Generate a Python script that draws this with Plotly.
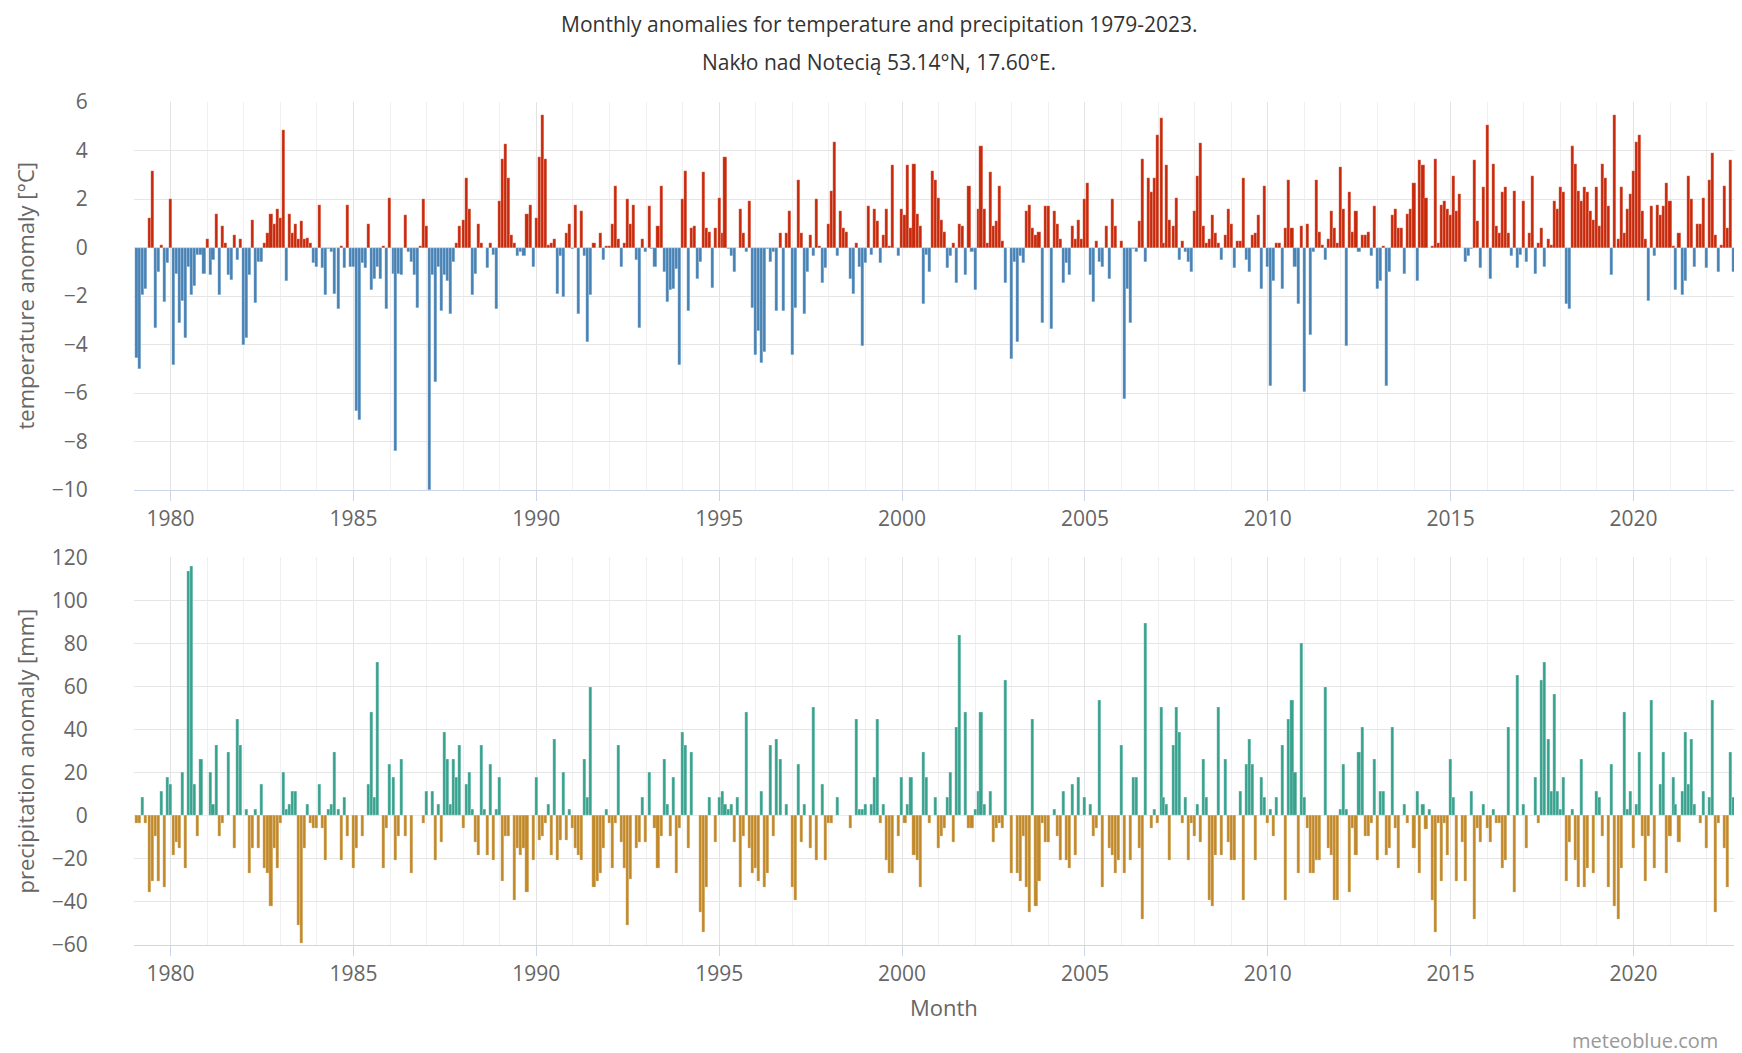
import pandas as pd
import plotly.graph_objects as go

# ---------------- data (monthly anomalies) ----------------
temp_1979_1989 = [
    -4.55, -5.0, -1.95, -1.7, 1.2, 3.15, -3.3, -1.0, 0.1, -2.25, -0.65, 2.0,
    -4.85, -1.1, -3.1, -2.2, -3.75, -0.8, -1.95, -1.6, -0.3, -0.3, -1.1, 0.37,
    -1.15, -0.5, 1.4, -1.95, 0.9, 0.2, -1.15, -1.35, 0.5, -0.5, 0.37, -4.0,
    -3.75, -1.15, 1.15, -2.3, -0.6, -0.6, 0.2, 0.6, 1.4, 0.95, 1.6, 1.2,
    4.85, -1.4, 1.4, 0.6, 0.95, 0.37, 1.1, 0.37, 0.4, 0.2, -0.65, -0.8,
    1.75, -0.85, -1.95, -0.05, -0.2, -1.9, -2.55, 0.07, -0.85, 1.75, -0.8, -0.8,
    -6.75, -7.1, -0.65, -0.85, 0.95, -1.75, -1.3, -0.8, -1.3, 0.07, -2.55, 2.05,
    -1.1, -8.4, -1.1, -1.15, 1.35, -0.2, -0.6, -1.15, -2.5, 0.05, 2.0, 0.9,
    -10.0, -1.15, -5.55, -0.8, -2.6, -1.15, -1.4, -2.75, -0.6, 0.2, 0.9, 1.15,
    2.85, 1.6, -1.95, -1.1, 0.95, 0.2, 0.0, -0.85, 0.2, -0.3, -2.55, 1.9,
    3.65, 4.25, 2.85, 0.5, 0.2, -0.35, -0.2, -0.35, 1.4, 1.75, -0.8, 1.2,
]
temp_1990_1999 = [
    3.75, 5.45, 3.65, 0.1, 0.2, 0.37, -1.9, -0.35, -2.05, 0.6, 0.95, -0.05,
    1.75, -2.75, 1.5, -0.35, -3.9, -1.95, 0.2, 0.0, 0.6, -0.5, 0.07, 0.07,
    0.95, 2.55, 0.37, -0.8, 0.2, 2.0, 0.95, 1.75, -0.5, -3.3, 0.37, -0.2,
    1.7, -0.05, -0.8, 0.9, 2.55, -1.0, -2.25, -1.75, -1.7, -0.9, -4.85, 2.0,
    3.15, -2.6, 0.8, 0.9, -1.3, -0.6, 3.1, 0.8, 0.65, -1.65, 0.8, 2.05,
    0.6, 3.75, -0.05, -0.35, -1.0, 0.0, 1.6, 0.6, -0.2, 1.9, -2.5, -4.45,
    -3.45, -4.75, -4.3, -0.05, -0.6, -0.2, -2.6, 0.6, -2.6, 0.6, 1.5, -4.45,
    -2.5, 2.8, 0.6, -2.75, -1.0, 0.5, -0.35, 2.0, 0.07, -1.45, -0.85, 0.95,
    2.35, 4.35, -0.35, 1.5, 0.8, 0.65, -1.3, -1.9, 0.2, -0.8, -4.05, -0.65,
    1.7, -0.3, 1.6, 1.1, -0.65, 0.5, 1.6, 0.07, 3.4, 0.0, -0.35, 1.6,
]
temp_2000_2009 = [
    1.35, 3.4, 0.8, 3.45, 1.4, 0.9, -2.35, -0.3, -1.0, 3.15, 2.8, 2.05,
    1.15, 0.65, -0.85, -0.35, 0.2, -1.45, 0.95, 0.9, -1.15, 2.55, -0.2, -1.75,
    1.6, 4.2, 1.6, 0.2, 3.1, 0.9, 1.1, 2.55, 0.27, -1.45, 0.0, -4.6,
    -0.6, -3.9, -0.35, -0.65, 1.5, 1.75, 0.8, 0.5, 0.65, -3.1, 1.7, 1.7,
    -3.35, 1.5, 0.95, 0.37, -1.45, -0.65, -1.15, 0.9, 0.37, 1.15, 0.37, 2.0,
    2.65, -1.15, -2.25, 0.27, -0.6, -0.8, 0.9, -1.3, 2.0, 0.9, 0.0, 0.27,
    -6.25, -1.7, -3.1, -0.05, -0.2, 1.1, 3.65, -0.6, 2.85, 2.3, 2.85, 4.65,
    5.35, 0.2, 3.4, 1.15, 0.9, 2.05, -0.5, 0.27, -0.2, -0.6, -1.0, 1.5,
    2.95, 4.3, 0.9, 0.2, 0.35, 1.35, 0.6, 0.2, -0.5, 0.5, 1.6, 0.95,
    -0.85, 0.27, 0.27, 2.85, -0.5, -1.0, 0.5, 0.6, 1.35, -1.7, 2.55, -0.8,
]
temp_2010_2022 = [
    -5.7, -1.4, 0.2, 0.2, -1.7, 0.8, 2.8, 0.8, -0.8, -2.35, 0.9, -5.95,
    0.95, -3.6, -0.2, 2.8, 0.65, 0.1, -0.5, 0.37, 1.5, 0.8, 0.2, 3.3,
    1.6, -4.05, 2.3, 0.65, 1.5, -0.2, 0.5, 0.5, 0.65, -0.35, 1.7, -1.7,
    -1.4, 0.07, -5.7, -1.0, 1.35, 1.6, 0.8, 0.8, -1.1, 1.4, 1.6, 2.65,
    -1.4, 3.6, 3.4, 2.05, 0.0, 0.07, 3.65, 0.2, 1.75, 1.9, 1.6, 1.35,
    2.95, 1.5, 2.2, 0.0, -0.6, -0.35, -0.05, 3.6, 1.1, -0.85, 2.5, 5.05,
    -1.3, 3.45, 0.9, 0.6, 2.3, 2.5, 0.6, -0.35, 2.35, -0.85, -0.3, 1.9,
    -0.6, 0.6, 2.95, -1.1, 0.2, 0.8, -0.8, 0.37, 0.1, 1.9, 1.6, 2.5,
    2.3, -2.35, -2.55, 4.2, 3.45, 2.35, 1.9, 2.5, 2.3, 1.5, 1.15, 2.5,
    0.9, 3.45, 2.85, 1.7, -1.15, 5.45, 0.35, 2.5, 0.6, 1.6, 2.2, 3.15,
    4.35, 4.65, 1.5, 0.37, -2.2, 1.7, -0.35, 1.75, 1.35, 1.7, 2.65, 1.9,
    0.07, -1.75, 0.6, -1.95, -1.4, 2.95, 2.0, -0.8, 0.95, 0.95, 2.05, -0.85,
    2.8, 3.9, 0.5, -1.0, 0.1, 2.55, 0.8, 3.6, -1.0, 2.55, 0.6,
]

precip_1979_1989 = [
    -3.4, -3.4, 8.8, -3.4, -35.6, -30.2, -9.3, -30.2, 11.3, -33.3, 17.8, 14.6,
    -18.3, -12.1, -15.2, 20.4, -24.3, 113.6, 116.0, 14.6, -9.3, 26.3, 0.0, 0.0,
    20.4, 5.4, 32.8, -9.3, -3.4, 0.0, 29.7, 0.0, -15.2, 44.6, 32.8, 0.0,
    3.1, -26.6, -15.2, 3.1, -15.2, 14.6, -24.3, -26.6, -41.8, -15.2, -24.3, -3.4,
    20.4, 3.1, 5.4, 11.3, 11.3, -50.8, -59.1, -15.2, 5.4, -3.4, -5.9, -5.9,
    14.6, -5.9, -20.9, 3.1, 5.4, 29.7, 3.1, -20.9, 8.8, -9.3, 0.0, -24.3,
    -15.2, 0.0, -9.3, 0.0, 14.6, 48.0, 8.8, 71.2, 0.0, -24.3, -5.9, 23.7,
    17.8, -20.9, -9.3, 26.3, -9.3, 0.0, -26.6, 0.0, 0.0, 0.0, -3.4, 11.3,
    0.0, 11.3, -20.9, 5.4, -12.1, 38.7, 26.3, 5.4, 26.3, 17.8, 32.8, -5.9,
    14.6, 20.4, 3.1, -12.1, -18.3, 32.8, 3.1, -18.3, 23.7, -20.9, 3.1, 17.8,
    -30.2, -9.3, -9.3, 0.0, -39.2, -15.2, -18.3, -15.2, -35.6, 0.0, -20.9, 17.8,
]
precip_1990_1999 = [
    -11.6, -9.3, -3.4, 5.4, -18.3, 35.6, -20.9, -11.6, 20.4, -11.6, 3.1, -5.9,
    -15.2, -18.3, -20.9, 26.3, 8.8, 59.6, -33.3, -30.2, -26.6, -15.2, 3.1, -3.4,
    -24.3, -3.4, 32.8, -12.1, -24.3, -50.8, -29.4, 0.0, -15.2, -12.1, 8.8, -12.1,
    20.4, 0.0, -5.9, -24.3, -9.3, 26.3, 5.4, -9.3, 17.8, -26.6, -5.9, 38.7,
    32.8, -15.2, 29.7, 0.0, 0.0, -44.9, -54.2, -33.3, 8.8, 0.0, -12.1, 8.8,
    11.3, 5.4, 3.1, 5.4, -12.1, 8.8, -33.3, -9.3, 48.0, -15.2, -26.6, -24.3,
    -30.2, 11.3, -33.3, -26.6, 32.8, -9.3, 35.6, 26.3, 0.0, 5.4, 0.0, -33.3,
    -39.2, 23.7, -12.1, 5.4, 0.0, -15.2, 50.3, -20.9, 0.0, 14.6, -20.9, -3.4,
    -3.4, 0.0, 8.8, 0.0, 0.0, 0.0, -5.9, 0.0, 44.6, 3.1, 3.1, 5.4,
    0.0, 5.4, 17.8, 44.6, -3.4, 5.4, -20.9, -26.6, -26.6, 0.0, -9.3, 17.8,
]
precip_2000_2009 = [
    -3.4, 5.4, 17.8, -18.3, -20.9, -33.3, 29.7, 17.8, -3.4, 0.0, 8.8, -15.2,
    -9.3, -5.9, 8.8, 20.4, -12.1, 41.0, 83.6, 0.0, 48.0, -5.9, -5.9, 3.1,
    11.3, 48.0, 5.4, 0.0, 11.3, -12.1, -5.9, -3.4, -5.9, 62.7, 0.0, -26.6,
    0.0, -26.6, -30.2, -9.3, -33.3, -44.9, 44.6, -41.8, -30.2, -3.4, -12.1, -12.1,
    0.0, 3.1, -9.3, -20.9, 11.3, -20.9, -24.3, 14.6, -18.3, 17.8, 0.0, 8.8,
    0.0, 5.4, -9.3, -5.9, 53.7, -33.3, 0.0, -15.2, -18.3, -26.6, -20.9, 32.8,
    -26.6, 0.0, -20.9, 17.8, 17.8, -15.2, -48.0, 89.5, 0.0, -5.9, 3.1, -3.4,
    50.3, 8.8, 5.4, -20.9, 32.8, 50.3, 38.7, -3.4, 8.8, -20.9, -3.4, -9.3,
    5.4, -12.1, 26.3, 8.8, -39.2, -41.8, -18.3, 50.3, -18.3, 26.3, -12.1, -20.9,
    -20.9, 0.0, 11.3, -39.2, 23.7, 35.6, 23.7, -20.9, 0.0, 17.8, 8.8, -3.4,
]
precip_2010_2022 = [
    3.1, -9.3, 8.8, 0.0, 32.8, -39.2, 44.6, 53.7, 20.4, -26.6, 80.2, 8.8,
    -5.9, -26.6, -26.6, -20.9, -20.9, 0.0, 59.6, -15.2, -18.3, -39.2, -39.2, 3.1,
    23.7, 3.1, -35.6, -5.9, -18.3, 29.7, 41.0, -9.3, -9.3, -3.4, 26.3, -20.9,
    11.3, 11.3, -18.3, -15.2, 41.0, -5.9, -24.3, 0.0, 5.4, -3.4, 0.0, -15.2,
    11.3, -26.6, 5.4, -6.2, 3.1, -39.2, -54.2, -3.4, -30.2, -3.4, -18.3, 26.3,
    8.8, -30.2, 0.0, -12.1, -30.2, 0.0, 11.3, -48.0, -5.9, -12.1, 5.4, -5.9,
    -12.1, 3.1, -3.4, -3.4, -24.3, -20.9, 41.0, 0.0, -35.6, 65.3, 0.0, 5.4,
    -15.2, 0.0, 0.0, 17.8, -3.4, 62.7, 71.2, 35.6, 11.3, 56.2, 11.3, 3.1,
    17.8, -30.2, -12.1, 3.1, -20.9, -33.3, 26.3, -33.3, -24.3, 0.0, -26.6, 11.3,
    8.8, -9.3, 0.0, -33.3, 23.7, -41.8, -48.0, -24.3, 48.0, 3.1, 11.3, -15.2,
    5.4, 29.7, -9.3, -30.2, -9.3, 53.7, -24.3, 0.0, 14.6, 29.7, -26.6, -9.3,
    17.8, 5.4, -12.1, 11.3, 38.7, 14.6, 35.6, 5.4, 0.0, -3.4, 11.3, -15.2,
    8.8, 53.7, -44.9, -3.4, 0.0, -15.2, -33.3, 29.7, 8.8, 0.0, 0.0,
]

first_month = "1979-01"
tick_years = [1980, 1985, 1990, 1995, 2000, 2005, 2010, 2015, 2020]
temp_ticks = [-10, -8, -6, -4, -2, 0, 2, 4, 6]
precip_ticks = [-60, -40, -20, 0, 20, 40, 60, 80, 100, 120]

title_line1 = "Monthly anomalies for temperature and precipitation 1979-2023."
title_line2 = "Nakło nad Notecią 53.14°N, 17.60°E."

# ---------------- assemble ----------------
temperature = temp_1979_1989 + temp_1990_1999 + temp_2000_2009 + temp_2010_2022
precipitation = precip_1979_1989 + precip_1990_1999 + precip_2000_2009 + precip_2010_2022
n = len(temperature)

# each monthly value is stamped on the last day of its month
month_start = pd.date_range(pd.Timestamp(first_month + "-01") + pd.DateOffset(months=1),
                            periods=n, freq="MS")
month_end = month_start - pd.Timedelta(days=1)

RED, BLUE = "#c8290b", "#4682b4"
GREEN, ORANGE = "#39a28e", "#c1892a"
t_colors = [RED if v >= 0 else BLUE for v in temperature]
p_colors = [GREEN if v >= 0 else ORANGE for v in precipitation[:n]]

bar_w = 30.44 * 24 * 3600 * 1000  # ms
FONT = "Open Sans"
TICK_C = "#666666"

fig = go.Figure()
fig.add_trace(go.Bar(x=month_end, y=temperature, width=bar_w,
                     marker=dict(color=t_colors, line=dict(width=0.4, color="rgba(255,255,255,0.6)")),
                     xaxis="x", yaxis="y", name="temperature anomaly"))
fig.add_trace(go.Bar(x=month_end, y=precipitation[:n], width=bar_w,
                     marker=dict(color=p_colors, line=dict(width=0.4, color="rgba(255,255,255,0.6)")),
                     xaxis="x2", yaxis="y2", name="precipitation anomaly"))

# the page body adds an 8px offset; the figure is sized so the plot lands where the reference has it
OFF = 8
PAGE_W, PAGE_H = 1742, 1053
W, H = PAGE_W - OFF, PAGE_H - OFF
PLOT_L, PLOT_R, PLOT_T, PLOT_B = 133.5, 1742, 102, 945   # page pixels
L, R, T = PLOT_L - OFF, 0, PLOT_T - OFF
B = H - (PLOT_B - OFF)
plot_h = PLOT_B - PLOT_T
top_dom = [(PLOT_B - 490) / plot_h, 1.0]
bot_dom = [0.0, (PLOT_B - 557.3) / plot_h]

x_range = ["1979-01-01", "2022-12-20"]
tickvals = [f"{y}-01-01" for y in tick_years]

def xaxis_cfg(anchor):
    return dict(
        domain=[0, 1], anchor=anchor, type="date", range=x_range,
        tickmode="array", tickvals=tickvals, ticktext=[str(y) for y in tick_years],
        showgrid=True, gridcolor="#e3e3e3", gridwidth=1,
        minor=dict(dtick="M12", tick0="1979-01-01", showgrid=True, gridcolor="#f0f0f0", gridwidth=1, ticks=""),
        showline=True, linecolor="#ccd6eb", linewidth=1,
        ticks="outside", ticklen=10, tickcolor="#ccd6eb", tickwidth=1,
        tickfont=dict(family=FONT, size=21, color=TICK_C),
        zeroline=False, fixedrange=True,
    )

def yaxis_cfg(anchor, dom, rng, ticks):
    return dict(
        domain=dom, anchor=anchor, range=rng, tickmode="array", tickvals=ticks,
        showgrid=True, gridcolor="#e6e6e6", gridwidth=1, zeroline=False,
        showline=False, ticks="outside", ticklen=41, tickcolor="rgba(0,0,0,0)",
        tickfont=dict(family=FONT, size=21, color=TICK_C),
    )

fig.update_layout(
    width=W, height=H, margin=dict(l=L, r=R, t=T, b=B, autoexpand=False),
    paper_bgcolor="white", plot_bgcolor="white", showlegend=False,
    bargap=0, barmode="overlay",
    xaxis=xaxis_cfg("y"), yaxis=yaxis_cfg("x", top_dom, [-10, 6], temp_ticks),
    xaxis2=xaxis_cfg("y2"), yaxis2=yaxis_cfg("x2", bot_dom, [-60, 120], precip_ticks),
    font=dict(family=FONT, color="#333333"),
)

def px_x(px):
    return (px - PLOT_L) / (PLOT_R - PLOT_L)

def px_y(py):
    return (PLOT_B - py) / plot_h

ann = [
    dict(text=title_line1, x=px_x(879), y=px_y(24), font=dict(size=21, color="#333333")),
    dict(text=title_line2, x=px_x(879), y=px_y(62), font=dict(size=21, color="#333333")),
    dict(text="temperature anomaly [°C]", x=px_x(24), y=px_y(296), textangle=-90,
         font=dict(size=22, color=TICK_C)),
    dict(text="precipitation anomaly [mm]", x=px_x(24), y=px_y(751), textangle=-90,
         font=dict(size=22, color=TICK_C)),
    dict(text="Month", x=px_x(944), y=px_y(1007), font=dict(size=22, color=TICK_C)),
    dict(text="meteoblue.com", x=px_x(1720), y=px_y(1040), xanchor="right",
         font=dict(size=20, color="#999999")),
]
for a in ann:
    a.setdefault("xanchor", "center")
    a.update(xref="paper", yref="paper", yanchor="middle", showarrow=False)
    a["font"]["family"] = FONT
fig.update_layout(annotations=ann)

fig.write_html("out.html")
